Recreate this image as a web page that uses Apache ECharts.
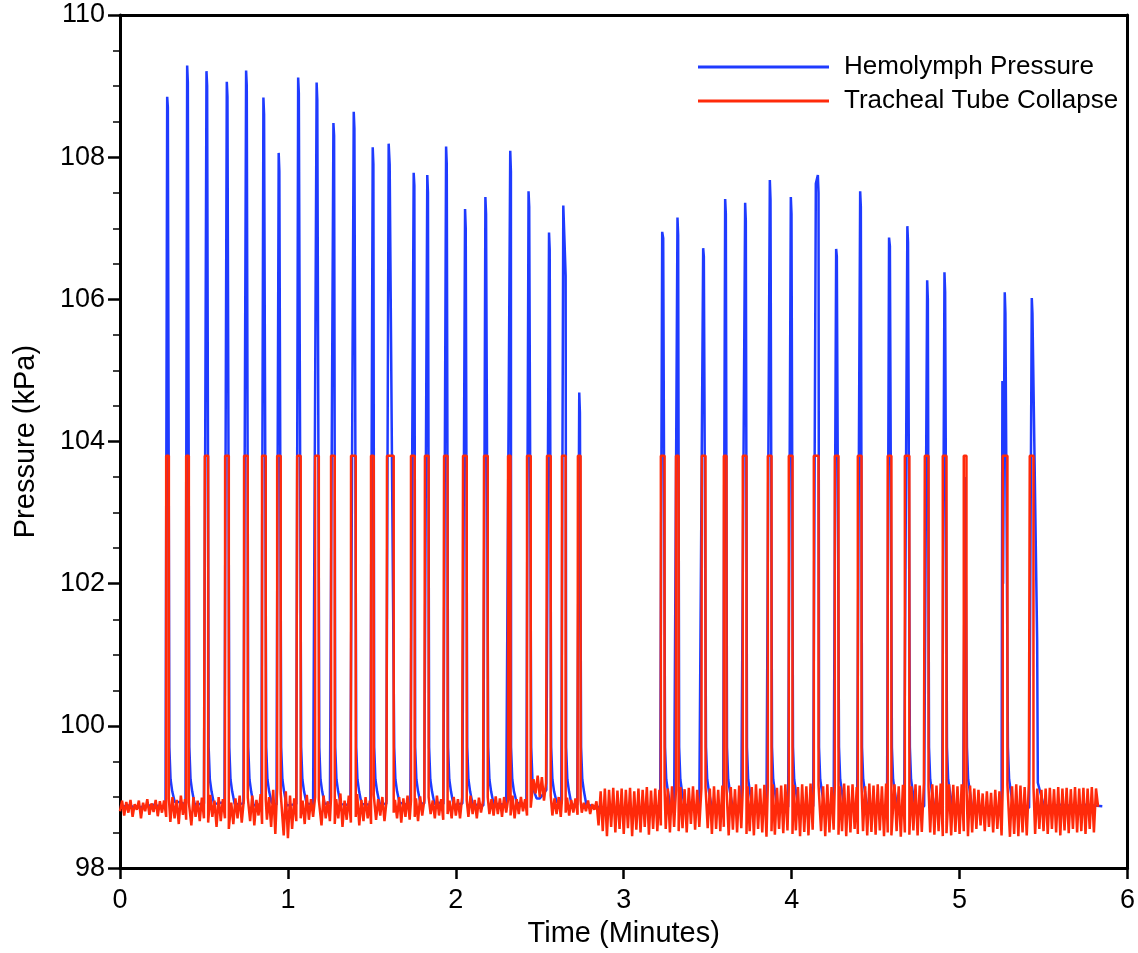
<!DOCTYPE html>
<html>
<head>
<meta charset="utf-8">
<title>Hemolymph pressure and tracheal tube collapse</title>
<script src="https://cdn.jsdelivr.net/npm/echarts@6/dist/echarts.min.js"></script>
<style>
  html, body { margin: 0; padding: 0; background: #fff; }
  #chart { width: 1138px; height: 953px; }
</style>
</head>
<body>
<div id="chart"></div>
<script>
// time axis in minutes, pressure in kPa

const X_TICKS = [0, 1, 2, 3, 4, 5, 6];
const Y_TICKS = [98, 100, 102, 104, 106, 108, 110];

// tracheal collapse pulses: start / end times (min) and plateau level
const COLLAPSE_LEVEL = 103.8;
const collapseStart = [
  0.275, 0.394, 0.505, 0.626, 0.739, 0.846, 0.936, 1.055, 1.162, 1.257,
  1.376, 1.495, 1.590, 1.733, 1.816, 1.930, 2.043, 2.168, 2.311, 2.424,
  2.543, 2.632, 2.727, 3.221, 3.311, 3.465, 3.596, 3.709, 3.858, 3.983,
  4.132, 4.257, 4.394, 4.572, 4.674, 4.793, 4.900, 5.025, 5.257, 5.418
];
const collapseEnd = [
  0.291, 0.410, 0.525, 0.648, 0.761, 0.868, 0.957, 1.076, 1.184, 1.279,
  1.404, 1.511, 1.630, 1.755, 1.838, 1.951, 2.065, 2.190, 2.326, 2.446,
  2.565, 2.654, 2.743, 3.243, 3.327, 3.487, 3.612, 3.731, 3.880, 4.005,
  4.160, 4.279, 4.416, 4.594, 4.701, 4.815, 4.922, 5.041, 5.285, 5.440
];

// hemolymph spike tops [time, kPa]
const hemoTops = [
  [0.281, 108.85], [0.285, 108.70],
  [0.400, 109.29], [0.404, 109.05],
  [0.515, 109.21], [0.519, 109.00],
  [0.636, 109.06], [0.640, 108.85],
  [0.751, 109.22], [0.755, 109.00],
  [0.854, 108.84], [0.858, 108.60],
  [0.945, 108.06], [0.949, 107.80],
  [1.061, 109.12], [1.065, 108.90],
  [1.171, 109.05], [1.175, 108.80],
  [1.271, 108.48], [1.275, 108.30],
  [1.392, 108.64], [1.396, 108.40],
  [1.505, 108.14], [1.509, 107.90],
  [1.600, 108.19], [1.606, 107.90],
  [1.749, 107.78], [1.753, 107.60],
  [1.830, 107.75], [1.834, 107.50],
  [1.942, 108.15], [1.946, 107.90],
  [2.055, 107.27], [2.059, 107.00],
  [2.176, 107.44], [2.180, 107.20],
  [2.324, 108.09], [2.328, 107.80],
  [2.433, 107.52], [2.437, 107.30],
  [2.555, 106.94], [2.559, 106.70],
  [2.640, 107.32], [2.646, 106.90], [2.654, 106.33],
  [2.735, 104.69], [2.739, 104.40],
  [3.229, 106.95], [3.235, 106.86],
  [3.320, 107.15], [3.324, 106.90],
  [3.473, 106.72], [3.477, 106.60],
  [3.604, 107.41], [3.608, 107.20],
  [3.723, 107.36], [3.727, 107.10],
  [3.870, 107.68], [3.874, 107.40],
  [3.995, 107.44], [3.999, 107.20],
  [4.144, 107.63], [4.156, 107.75], [4.160, 107.50],
  [4.265, 106.71], [4.269, 106.60],
  [4.408, 107.52], [4.412, 107.30],
  [4.580, 106.87], [4.585, 106.75],
  [4.689, 107.03], [4.693, 106.80],
  [4.807, 106.27], [4.811, 106.00],
  [4.910, 106.38], [4.914, 106.10],
  [5.033, 103.50],
  [5.255, 104.85], [5.259, 102.00], [5.269, 106.10], [5.273, 105.80],
  [5.430, 106.02], [5.434, 105.80], [5.462, 101.20], [5.466, 99.20]
];

// decay after each collapse ends [minutes after end, kPa]
const hemoTail = [[0.003, 99.70], [0.010, 99.25], [0.020, 99.08]];

// hemolymph resting level, one value every 0.05 min from 0
const BASE_STEP = 0.05;
const hemoBase = [
  98.86, 98.88, 98.85, 98.87, 98.89, 98.86, 98.90, 98.93, 98.90, 98.89,
  98.91, 98.90, 98.92, 98.89, 98.90, 98.91, 98.88, 98.90, 98.92, 98.89,
  98.88, 98.90, 98.91, 98.89, 98.90, 98.92, 98.90, 98.89, 98.91, 98.90,
  98.89, 98.91, 98.90, 98.92, 98.90, 98.89, 98.91, 98.90, 98.92, 98.90,
  98.89, 98.91, 98.90, 98.88, 98.91, 98.90, 98.89, 98.92, 98.90, 98.95,
  98.98, 99.10, 98.93, 98.90, 98.89, 98.91, 98.88, 98.86, 98.84, 98.82,
  98.80, 98.82, 98.84, 98.86, 98.87, 98.88, 98.87, 98.89, 98.88, 98.87,
  98.88, 98.86, 98.87, 98.88, 98.86, 98.87, 98.88, 98.86, 98.85, 98.87,
  98.86, 98.88, 98.85, 98.87, 98.86, 98.84, 98.86, 98.87, 98.85, 98.86,
  98.85, 98.87, 98.86, 98.84, 98.86, 98.85, 98.87, 98.85, 98.84, 98.86,
  98.85, 98.83, 98.82, 98.84, 98.83, 98.85, 98.84, 98.86, 98.85, 98.86,
  98.88, 98.87, 98.89, 98.88, 98.87, 98.89, 98.88, 98.87
];

// tracheal signal between collapses, one value every 0.0125 min from 0
const NOISE_STEP = 0.0125;
const trachealNoise = [
  98.80, 98.95, 98.74, 98.93, 98.78, 98.96, 98.72, 98.90, 98.82, 98.95, 98.70, 98.92, 98.80, 98.97, 98.75, 98.91, 98.79, 98.96, 98.73, 98.94,
  98.78, 98.95, 98.72, 98.98, 98.65, 99.00, 98.70, 98.96, 98.62, 99.02, 98.75, 98.97, 98.68, 98.92, 98.60, 99.00, 98.72, 98.95, 98.66, 98.99,
  98.70, 98.98, 98.64, 99.03, 98.72, 98.95, 98.58, 99.00, 98.66, 98.97, 98.70, 99.04, 98.55, 98.92, 98.62, 98.98, 98.70, 99.02, 98.64, 98.96,
  98.72, 98.99, 98.66, 99.02, 98.60, 98.96, 98.74, 99.04, 98.62, 98.97, 98.68, 99.00, 98.58, 99.10, 98.48, 99.12, 98.44, 99.05, 98.46, 99.08,
  98.42, 99.02, 98.55, 98.98, 98.66, 99.00, 98.70, 98.95, 98.62, 99.03, 98.68, 98.97, 98.72, 99.00, 98.65, 98.96, 98.60, 99.02, 98.70, 98.94,
  98.66, 99.00, 98.62, 98.97, 98.70, 99.05, 98.58, 98.95, 98.68, 99.02, 98.64, 98.98, 98.72, 99.04, 98.60, 98.96, 98.66, 99.00, 98.70, 98.95,
  98.62, 99.03, 98.68, 98.97, 98.74, 99.00, 98.66, 98.95, 98.70, 99.02, 98.78, 98.96, 98.70, 99.00, 98.64, 98.98, 98.72, 99.02, 98.68, 98.95,
  98.72, 98.98, 98.66, 99.01, 98.74, 98.96, 98.68, 99.00, 98.76, 98.95, 98.70, 99.02, 98.74, 98.97, 98.68, 98.99, 98.76, 98.95, 98.70, 99.00,
  98.74, 98.97, 98.70, 99.00, 98.78, 98.95, 98.72, 99.02, 98.76, 98.96, 98.70, 98.99, 98.78, 98.95, 98.72, 99.00, 98.76, 98.97, 98.74, 99.01,
  98.76, 98.98, 98.72, 99.00, 98.78, 98.96, 98.74, 99.02, 98.70, 98.97, 98.76, 99.00, 98.80, 98.97, 98.74, 99.00, 98.85, 99.25, 99.05, 99.30,
  99.00, 99.28, 98.95, 99.20, 98.82, 99.02, 98.74, 98.98, 98.76, 99.00, 98.72, 98.97, 98.78, 98.99, 98.74, 98.96, 98.78, 98.98, 98.75, 98.95,
  98.78, 98.92, 98.80, 98.95, 98.76, 98.90, 98.82, 98.94, 98.60, 99.08, 98.52, 99.12, 98.45, 99.10, 98.58, 99.13, 98.50, 99.09, 98.55, 99.12,
  98.48, 99.10, 98.56, 99.13, 98.45, 99.08, 98.54, 99.12, 98.50, 99.10, 98.58, 99.14, 98.47, 99.09, 98.55, 99.12, 98.52, 99.10, 98.60, 99.13,
  98.55, 99.12, 98.50, 99.15, 98.58, 99.10, 98.52, 99.14, 98.56, 99.11, 98.50, 99.13, 98.62, 99.15, 98.54, 99.10, 98.58, 99.12, 98.50, 99.14,
  98.56, 99.12, 98.48, 99.15, 98.55, 99.10, 98.52, 99.16, 98.58, 99.12, 98.46, 99.14, 98.54, 99.11, 98.50, 99.16, 98.56, 99.12, 98.48, 99.15,
  98.52, 99.14, 98.46, 99.18, 98.55, 99.12, 98.50, 99.17, 98.44, 99.15, 98.52, 99.18, 98.47, 99.13, 98.55, 99.16, 98.49, 99.18, 98.53, 99.14,
  98.48, 99.17, 98.53, 99.14, 98.45, 99.18, 98.51, 99.15, 98.46, 99.19, 98.54, 99.13, 98.48, 99.17, 98.52, 99.15, 98.45, 99.18, 98.50, 99.14,
  98.54, 99.17, 98.47, 99.15, 98.52, 99.19, 98.45, 99.16, 98.50, 99.18, 98.55, 99.14, 98.48, 99.17, 98.52, 99.15, 98.46, 99.19, 98.51, 99.16,
  98.47, 99.18, 98.53, 99.15, 98.45, 99.19, 98.50, 99.16, 98.46, 99.18, 98.52, 99.15, 98.44, 99.17, 98.50, 99.19, 98.47, 99.15, 98.53, 99.18,
  98.46, 99.16, 98.51, 99.19, 98.44, 99.15, 98.50, 99.18, 98.47, 99.16, 98.52, 99.19, 98.45, 99.15, 98.49, 99.18, 98.46, 99.17, 98.51, 99.15,
  98.48, 99.18, 98.52, 99.15, 98.45, 99.16, 98.50, 99.12, 98.55, 99.10, 98.60, 99.05, 98.52, 99.08, 98.58, 99.06, 98.50, 99.10, 98.55, 99.08,
  98.46, 99.12, 98.50, 99.17, 98.44, 99.15, 98.48, 99.18, 98.45, 99.16, 98.50, 99.14, 98.46, 99.18, 98.52, 99.15, 98.48, 99.12, 98.55, 99.10,
  98.52, 99.12, 98.48, 99.13, 98.55, 99.11, 98.50, 99.14, 98.46, 99.12, 98.53, 99.13, 98.49, 99.11, 98.55, 99.14, 98.50, 99.12, 98.52, 99.13,
  98.48, 99.12, 98.55, 99.14, 98.50, 99.12, 98.86
];

const BLUE = "#1f3bff";
const RED = "#ff2a0a";
const FONT = "'Liberation Sans', Arial, Helvetica, sans-serif";

const baseAt = t => hemoBase[Math.min(hemoBase.length - 1, Math.max(0, Math.round(t / BASE_STEP)))];
const noiseAt = t => trachealNoise[Math.min(trachealNoise.length - 1, Math.round(t / NOISE_STEP))];

function buildHemolymph() {
  const windows = collapseStart.map((s, k) => {
    const e = collapseEnd[k];
    const tops = hemoTops.filter(([t]) => t >= s - 0.01 && t <= e + 0.03);
    const last = tops[tops.length - 1];
    return {
      from: Math.min(s, tops[0][0]) - 0.004,
      to: Math.max(e, last[0]) + 0.035,
      end: e, tops, last
    };
  });
  const pts = [];
  hemoBase.forEach((v, i) => {
    const t = i * BASE_STEP;
    if (!windows.some(w => t >= w.from && t <= w.to)) pts.push([t, v]);
  });
  windows.forEach(w => {
    pts.push([w.from, baseAt(w.from)], ...w.tops);
    hemoTail.forEach(([dt, v]) => {
      const t = w.end + dt;
      if (t > w.last[0] && v < w.last[1]) pts.push([t, v]);
    });
    pts.push([w.to, baseAt(w.to)]);
  });
  return pts.sort((a, b) => a[0] - b[0]);
}

function buildTracheal() {
  const pts = [];
  trachealNoise.forEach((v, i) => {
    const t = i * NOISE_STEP;
    if (!collapseStart.some((s, k) => t >= s && t <= collapseEnd[k])) pts.push([t, v]);
  });
  collapseStart.forEach((s, k) => {
    const e = collapseEnd[k];
    pts.push([s - 1e-6, noiseAt(s)], [s, COLLAPSE_LEVEL], [e, COLLAPSE_LEVEL], [e + 1e-6, noiseAt(e)]);
  });
  return pts.sort((a, b) => a[0] - b[0]);
}

const chart = echarts.init(document.getElementById("chart"), null, { renderer: "canvas" });
const axisLine = { show: true, onZero: false, lineStyle: { color: "#000", width: 3 } };
const label = { color: "#000", fontSize: 27, fontFamily: FONT };

chart.setOption({
  animation: false,
  backgroundColor: "#fff",
  grid: { left: 120, right: 10, top: 15, bottom: 82 },
  legend: {
    orient: "vertical",
    left: 693,
    top: 48,
    icon: "rect",
    itemWidth: 131,
    itemHeight: 3,
    itemGap: 6,
    textStyle: { color: "#000", fontSize: 26, fontFamily: FONT, padding: [0, 0, 0, 10], lineHeight: 28 },
    data: ["Hemolymph Pressure", "Tracheal Tube Collapse"]
  },
  xAxis: [
    {
      type: "value",
      min: X_TICKS[0],
      max: X_TICKS[X_TICKS.length - 1],
      interval: 1,
      name: "Time (Minutes)",
      nameLocation: "middle",
      nameGap: 50,
      nameTextStyle: { color: "#000", fontSize: 29, fontFamily: FONT },
      axisLine,
      axisTick: { show: true, inside: false, length: 11, lineStyle: { color: "#000", width: 2.5 } },
      axisLabel: { ...label, margin: 19 },
      splitLine: { show: false }
    },
    {
      type: "value", position: "top", min: 0, max: 6,
      axisLine, axisTick: { show: false }, axisLabel: { show: false }, splitLine: { show: false }
    }
  ],
  yAxis: [
    {
      type: "value",
      min: Y_TICKS[0],
      max: Y_TICKS[Y_TICKS.length - 1],
      interval: 2,
      name: "Pressure (kPa)",
      nameLocation: "middle",
      nameGap: 80,
      nameTextStyle: { color: "#000", fontSize: 29, fontFamily: FONT },
      axisLine,
      axisTick: { show: true, inside: false, length: 12, lineStyle: { color: "#000", width: 2.5 } },
      minorTick: { show: true, splitNumber: 4, length: 7, lineStyle: { color: "#000", width: 1.5 } },
      axisLabel: { ...label, margin: 15 },
      splitLine: { show: false }
    },
    {
      type: "value", position: "right", min: 98, max: 110,
      axisLine, axisTick: { show: false }, axisLabel: { show: false }, splitLine: { show: false }
    }
  ],
  series: [
    {
      name: "Hemolymph Pressure",
      type: "line",
      data: buildHemolymph(),
      showSymbol: false,
      symbol: "none",
      color: BLUE,
      lineStyle: { color: BLUE, width: 2.5 },
      z: 2
    },
    {
      name: "Tracheal Tube Collapse",
      type: "line",
      data: buildTracheal(),
      showSymbol: false,
      symbol: "none",
      color: RED,
      lineStyle: { color: RED, width: 2.5 },
      z: 3
    }
  ]
});
</script>
</body>
</html>
